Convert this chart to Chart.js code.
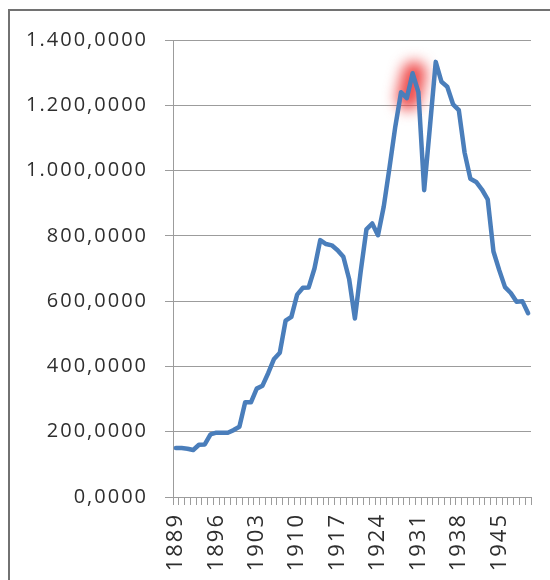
<!DOCTYPE html>
<html>
<head>
<meta charset="utf-8">
<style>
  html, body { margin: 0; padding: 0; background: #ffffff; overflow: hidden; }
  #wrap { position: relative; width: 550px; height: 580px; }
  canvas { display: block; }
</style>
<script src="https://cdn.jsdelivr.net/npm/chart.js@4.4.1/dist/chart.umd.min.js"></script>
</head>
<body>
<div id="wrap"><canvas id="chart" width="550" height="580"></canvas></div>
<script>
// Years on the category axis
const years = [
  1889, 1890, 1891, 1892, 1893, 1894, 1895, 1896, 1897, 1898,
  1899, 1900, 1901, 1902, 1903, 1904, 1905, 1906, 1907, 1908,
  1909, 1910, 1911, 1912, 1913, 1914, 1915, 1916, 1917, 1918,
  1919, 1920, 1921, 1922, 1923, 1924, 1925, 1926, 1927, 1928,
  1929, 1930, 1931, 1932, 1933, 1934, 1935, 1936, 1937, 1938,
  1939, 1940, 1941, 1942, 1943, 1944, 1945, 1946, 1947, 1948,
  1949, 1950
];

// Yearly values
const values = [
  150, 150, 148, 144, 160, 161, 192, 197, 197, 197,
  205, 215, 290, 290, 332, 341, 380, 423, 442, 540,
  552, 620, 641, 642, 700, 787, 775, 771, 756, 736,
  668, 547, 690, 820, 838, 802, 890, 1010, 1135, 1240,
  1222, 1298, 1240, 940, 1135, 1333, 1272, 1257, 1203, 1185,
  1055, 975, 965, 942, 912, 752, 695, 643, 625, 598,
  600, 563
];

// Value axis range and step
const yMin = 0;
const yMax = 1400;
const yStep = 200;

// Every n-th year gets a label
const labelEvery = 7;

// Segment that is highlighted with a glow
const glowFrom = 1929;
const glowTo = 1930;

// German number style with four decimals: 1400 -> "1.400,0000"
function formatValue(v) {
  const whole = Math.round(v).toString().replace(/\B(?=(\d{3})+(?!\d))/g, '.');
  return whole + ',0000';
}

const framePlugin = {
  id: 'frame',
  beforeDraw(chart) {
    const ctx = chart.ctx;
    ctx.save();
    ctx.fillStyle = '#727272';
    ctx.fillRect(8, 9, 2, 571);
    ctx.fillRect(8, 9, 542, 2);
    ctx.restore();
  }
};

const spacingPlugin = {
  id: 'letterSpacing',
  beforeUpdate(chart) { chart.ctx.letterSpacing = '2px'; },
  beforeDraw(chart) { chart.ctx.letterSpacing = '2px'; }
};

const glowPlugin = {
  id: 'segmentGlow',
  beforeDatasetsDraw(chart) {
    const meta = chart.getDatasetMeta(0);
    const a = meta.data[years.indexOf(glowFrom)];
    const b = meta.data[years.indexOf(glowTo)];
    if (!a || !b) return;
    const ctx = chart.ctx;
    ctx.save();
    ctx.filter = 'blur(7px)';
    ctx.strokeStyle = 'rgba(238, 66, 66, 0.95)';
    ctx.lineWidth = 24;
    ctx.lineCap = 'round';
    ctx.beginPath();
    ctx.moveTo(a.x + 1.5, a.y);
    ctx.lineTo(b.x + 1.5, b.y);
    ctx.stroke();
    ctx.restore();
  }
};

const gridGray = '#9c9c9c';
const textColor = '#2e2e2e';

new Chart(document.getElementById('chart').getContext('2d'), {
  type: 'line',
  data: {
    labels: years.map(String),
    datasets: [{
      data: values,
      borderColor: '#4a7ebb',
      borderWidth: 4.5,
      pointRadius: 0,
      tension: 0,
      fill: false,
      borderJoinStyle: 'round',
      borderCapStyle: 'round'
    }]
  },
  options: {
    responsive: false,
    animation: false,
    devicePixelRatio: 1,
    layout: { padding: { top: 40, right: 19, left: 0, bottom: 0 } },
    plugins: { legend: { display: false }, tooltip: { enabled: false } },
    scales: {
      x: {
        type: 'category',
        offset: true,
        grid: {
          display: true,
          offset: true,
          drawOnChartArea: false,
          drawTicks: true,
          tickLength: 8,
          color: gridGray,
          lineWidth: 1
        },
        border: { display: true, color: gridGray, width: 1 },
        ticks: {
          autoSkip: false,
          minRotation: 90,
          maxRotation: 90,
          padding: 8,
          color: textColor,
          font: { family: '"Open Sans", sans-serif', size: 22 },
          callback: (v, i) => (i % labelEvery === 0 ? String(years[i]) : '')
        },
        afterFit: (s) => { s.height = 83; s.paddingLeft = 0; s.paddingRight = 0; }
      },
      y: {
        min: yMin,
        max: yMax,
        grid: { color: gridGray, lineWidth: 1, drawTicks: true, tickLength: 8 },
        border: { display: true, color: gridGray, width: 1 },
        ticks: {
          stepSize: yStep,
          padding: 17,
          color: textColor,
          font: { family: '"Open Sans", sans-serif', size: 20 },
          callback: (v) => formatValue(v)
        },
        afterFit: (s) => { s.width = 173; s.paddingTop = 0; s.paddingBottom = 0; }
      }
    }
  },
  plugins: [framePlugin, spacingPlugin, glowPlugin]
});
</script>
</body>
</html>
